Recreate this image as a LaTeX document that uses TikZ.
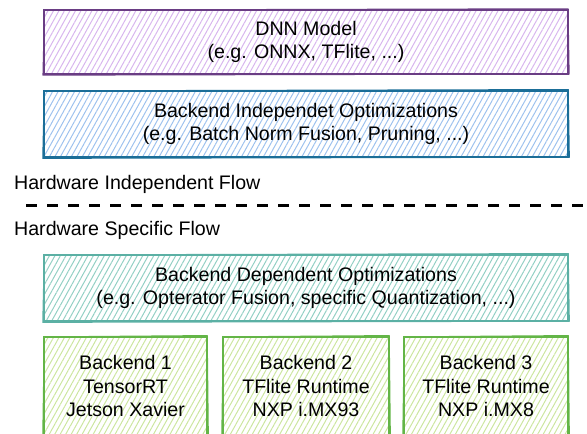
\documentclass[tikz,border=0pt]{standalone}
\usepackage{fontspec}
\setmainfont{Liberation Sans}
\usetikzlibrary{patterns.meta}
\definecolor{pstroke}{HTML}{6A3D84}
\definecolor{pfill}{HTML}{D8B6EE}
\definecolor{bstroke}{HTML}{1B6E98}
\definecolor{bfill}{HTML}{9EC2EE}
\definecolor{tstroke}{HTML}{5BB0A4}
\definecolor{tfill}{HTML}{93D0C4}
\definecolor{gstroke}{HTML}{63B547}
\definecolor{gfill}{HTML}{CCE6A0}
\tikzset{
  txt/.style={font=\fontsize{19.6}{23.5}\selectfont, text=black, align=center},
  sbox/.style 2 args={txt, draw=#1, line width=1.4pt, inner sep=0pt,
    pattern={Lines[angle=61,distance=4.8pt,line width=1pt]}, pattern color=#2},
  lbl/.style={font=\fontsize{19.6}{23.5}\selectfont, text=black, inner sep=0pt, anchor=base west},
  divider/.style={line width=3pt, dash pattern=on 11pt off 10pt}
}
\newcommand{\roughout}[2]{%
  \draw[#2, line width=0.9pt, line join=round]
    ([shift={(0.9pt,-0.5pt)}]#1.north west) -- ([shift={(-0.4pt,0.8pt)}]#1.north east)
    -- ([shift={(0.7pt,0.4pt)}]#1.south east) -- ([shift={(-0.6pt,-0.7pt)}]#1.south west) -- cycle;}
\begin{document}
\begin{tikzpicture}[x=1pt,y=-1pt]
\useasboundingbox (0,0) rectangle (587,434);
\clip (0,0) rectangle (587,434);
\node[sbox={pstroke}{pfill}, minimum width=524pt, minimum height=64pt] (dnn) at (306,42)
  {DNN Model\\(e.g. ONNX, TFlite, ...)};
\roughout{dnn}{pstroke}
\node[sbox={bstroke}{bfill}, minimum width=524pt, minimum height=66pt] (bio) at (306,124)
  {Backend Independet Optimizations\\(e.g. Batch Norm Fusion, Pruning, ...)};
\roughout{bio}{bstroke}
\node[lbl] (hif) at (14,189) {Hardware Independent Flow};
\coordinate (dl) at (26,205);
\coordinate (dr) at (590,205);
\draw[divider] (dl) -- (dr);
\node[lbl] (hsf) at (14,235) {Hardware Specific Flow};
\node[sbox={tstroke}{tfill}, minimum width=524pt, minimum height=66pt] (bdo) at (306,288)
  {Backend Dependent Optimizations\\(e.g. Opterator Fusion, specific Quantization, ...)};
\roughout{bdo}{tstroke}
\node[sbox={gstroke}{gfill}, minimum width=163pt, minimum height=98pt] (b1) at (125.5,386)
  {Backend 1\\TensorRT\\Jetson Xavier};
\roughout{b1}{gstroke}
\node[sbox={gstroke}{gfill}, minimum width=166pt, minimum height=98pt] (b2) at (306,386)
  {Backend 2\\TFlite Runtime\\NXP i.MX93};
\roughout{b2}{gstroke}
\node[sbox={gstroke}{gfill}, minimum width=164pt, minimum height=98pt] (b3) at (486,386)
  {Backend 3\\TFlite Runtime\\NXP i.MX8};
\roughout{b3}{gstroke}
\end{tikzpicture}
\end{document}
